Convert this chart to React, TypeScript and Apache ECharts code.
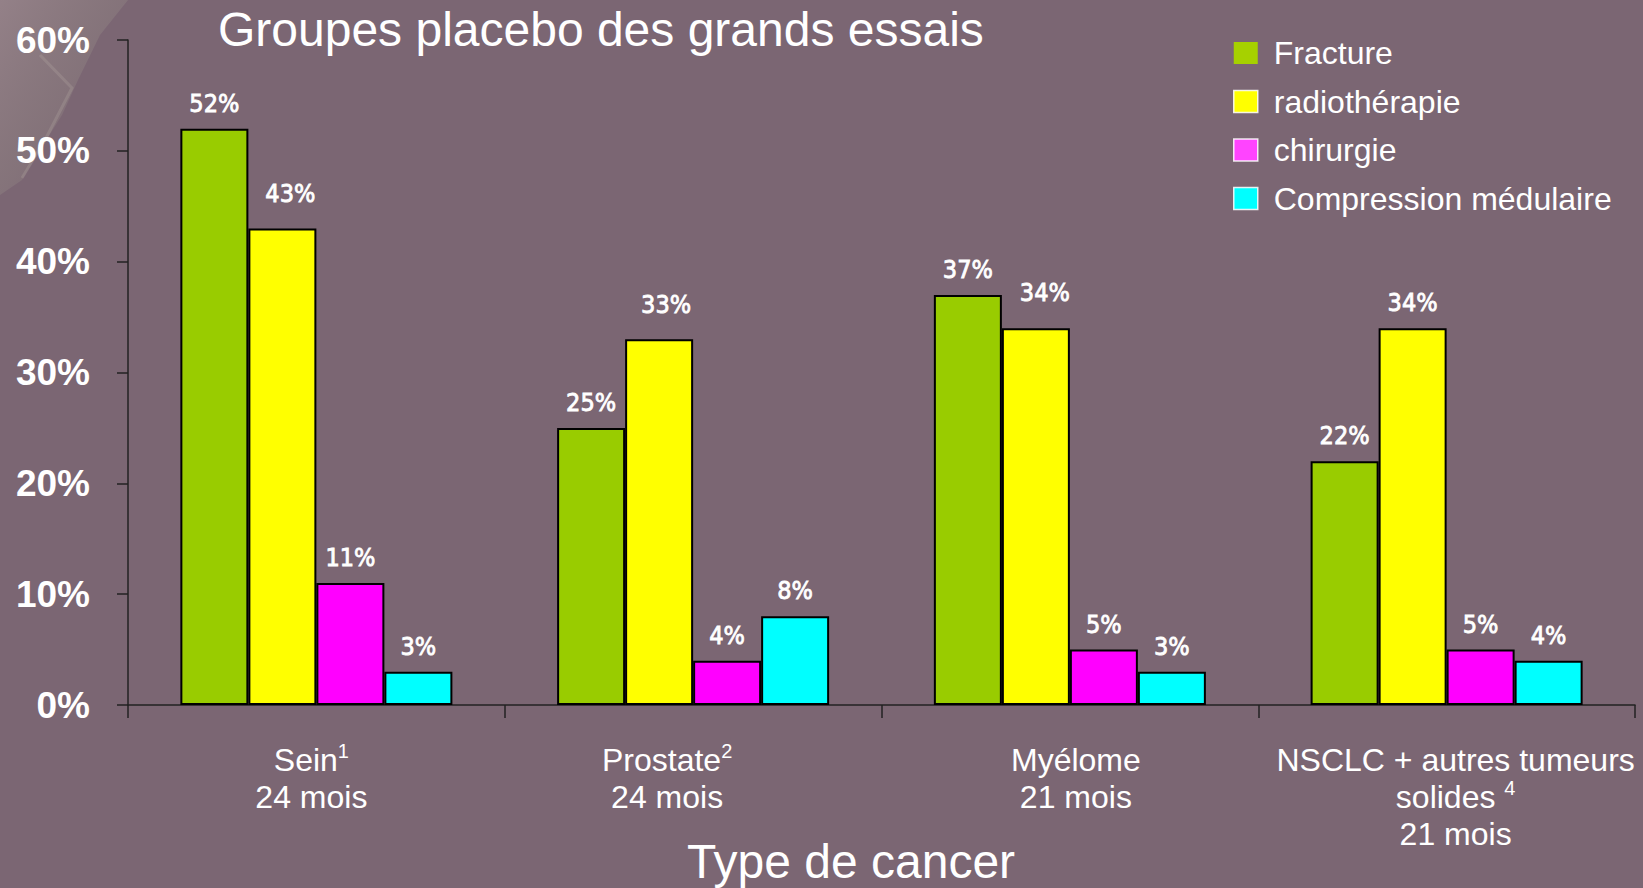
import React, { useEffect, useRef } from "react";
import * as echarts from "echarts";

const titleText = "Groupes placebo des grands essais";
const axisTitle = "Type de cancer";
const categories = ["Sein", "Prostate", "Myélome", "NSCLC + autres tumeurs solides"];
const labelLines = [["Sein"], ["Prostate"], ["Myélome"], ["NSCLC + autres tumeurs", "solides "]];
const notes = ["1", "2", "", "4"];
const durations = ["24 mois", "24 mois", "21 mois", "21 mois"];
const labelShift = [-5, -26, 6, 9];

const seriesNames = ["Fracture", "radiothérapie", "chirurgie", "Compression médulaire"];
const fracture = [52, 25, 37, 22];
const radiotherapie = [43, 33, 34, 34];
const chirurgie = [11, 4, 5, 5];
const compression = [3, 8, 3, 4];
const barColors = ["#99cc00", "#ffff00", "#ff00ff", "#00ffff"];
const legendColors = ["#a6d100", "#ffff00", "#ff44ff", "#00ffff"];
// small nudges of the value labels, as placed in the original slide
const radioLabelNudge = [[8, -9], [7, -9], [9, -10], [0, 0]];

const yTicks = { min: 0, max: 60, interval: 10 };

const FONT = "'Liberation Sans', Arial, sans-serif";
const LABEL_FONT = "'DejaVu Sans Condensed', 'Liberation Sans', sans-serif";

export default function App() {
  const ref = useRef<HTMLDivElement>(null);
  useEffect(() => {
    if (!ref.current) return;
    const chart = echarts.init(ref.current, undefined, { renderer: "svg" });
    const values = [fracture, radiotherapie, chirurgie, compression];

    const labelFor = (v: string) => {
      const i = categories.indexOf(v);
      const lines = labelLines[i];
      const parts: string[] = [];
      lines.forEach((l, k) => {
        let s = `{t|${l}}`;
        if (k === lines.length - 1 && notes[i]) s += `{s|${notes[i]}}`;
        parts.push(s);
      });
      parts.push(`{t|${durations[i]}}`);
      return parts.join("\n");
    };

    const baseLabel = {
      show: true,
      position: "top",
      distance: 13,
      formatter: "{c}%",
      color: "#ffffff",
      fontSize: 25,
      fontWeight: "normal",
      fontFamily: LABEL_FONT,
      textBorderColor: "#ffffff",
      textBorderWidth: 0.8,
    };

    chart.setOption({
      animation: false,
      backgroundColor: "#7b6673",
      title: {
        text: titleText,
        left: 218,
        top: 5,
        padding: 0,
        textStyle: { color: "#ffffff", fontSize: 48, fontWeight: "normal", fontFamily: FONT },
      },
      legend: {
        orient: "vertical",
        left: 1233,
        top: 37,
        padding: 0,
        itemWidth: 24,
        itemHeight: 22,
        itemGap: 16.5,
        icon: "rect",
        textStyle: { color: "#ffffff", fontSize: 32, fontFamily: FONT, padding: [0, 0, 0, 11] },
        itemStyle: { borderColor: "rgba(255,255,255,0.85)", borderWidth: 1.5 },
        data: seriesNames.map((n, i) => ({
          name: n,
          itemStyle: { color: legendColors[i], borderWidth: i === 0 ? 0 : 1.5 },
        })),
      },
      grid: { left: 128, right: 8, top: 40, bottom: 183, containLabel: false },
      xAxis: {
        type: "category",
        data: categories.map((c, i) => ({
          value: c,
          textStyle: { padding: labelShift[i] < 0 ? [0, -2 * labelShift[i], 0, 0] : [0, 0, 0, 2 * labelShift[i]] },
        })),
        axisLine: { lineStyle: { color: "#222222", width: 1.5 } },
        axisTick: { show: true, length: 13, alignWithLabel: false, lineStyle: { color: "#222222", width: 1.5 } },
        axisLabel: {
          margin: 36,
          formatter: labelFor,
          color: "#ffffff",
          rich: {
            t: { fontSize: 32, fontFamily: FONT, color: "#ffffff", lineHeight: 37 },
            s: { fontSize: 20, fontFamily: FONT, color: "#ffffff", lineHeight: 20, verticalAlign: "top" },
          },
        },
      },
      yAxis: {
        type: "value",
        min: yTicks.min,
        max: yTicks.max,
        interval: yTicks.interval,
        splitLine: { show: false },
        axisLine: { show: true, lineStyle: { color: "#222222", width: 1.5 } },
        axisTick: { show: true, length: 11, lineStyle: { color: "#222222", width: 1.5 } },
        axisLabel: {
          margin: 38,
          formatter: "{value}%",
          color: "#ffffff",
          fontSize: 37,
          fontWeight: "bold",
          fontFamily: FONT,
        },
      },
      graphic: [
        {
          type: "polygon",
          z: -10,
          shape: {
            points: [[0, 0], [128, 0], [100, 35], [78, 80], [62, 115], [40, 150], [22, 180], [0, 195]],
          },
          style: {
            fill: new echarts.graphic.LinearGradient(0, 0, 1, 1, [
              { offset: 0, color: "rgba(200,185,180,0.32)" },
              { offset: 0.5, color: "rgba(170,168,150,0.2)" },
              { offset: 1, color: "rgba(140,130,130,0.05)" },
            ]),
          },
        },
        {
          type: "polyline",
          z: -9,
          shape: { points: [[40, 55], [72, 88], [45, 140], [22, 178]] },
          style: { stroke: "rgba(200,190,180,0.2)", lineWidth: 3, fill: null },
        },
        {
          type: "text",
          x: 851,
          y: 861,
          style: {
            text: axisTitle,
            fill: "#ffffff",
            fontSize: 48,
            fontFamily: FONT,
            align: "center",
            verticalAlign: "middle",
          },
        },
      ],
      series: seriesNames.map((n, i) => ({
        name: n,
        type: "bar",
        data: values[i].map((v, j) =>
          i === 1 ? { value: v, label: { offset: radioLabelNudge[j] } } : v
        ),
        barGap: "0%",
        barCategoryGap: "27.8%",
        itemStyle: { color: barColors[i], borderColor: "#000000", borderWidth: 2 },
        label: baseLabel,
      })),
    });
    return () => chart.dispose();
  }, []);
  return (
    <div
      ref={ref}
      style={{ position: "fixed", left: 0, top: 0, width: 1643, height: 888 }}
    />
  );
}
